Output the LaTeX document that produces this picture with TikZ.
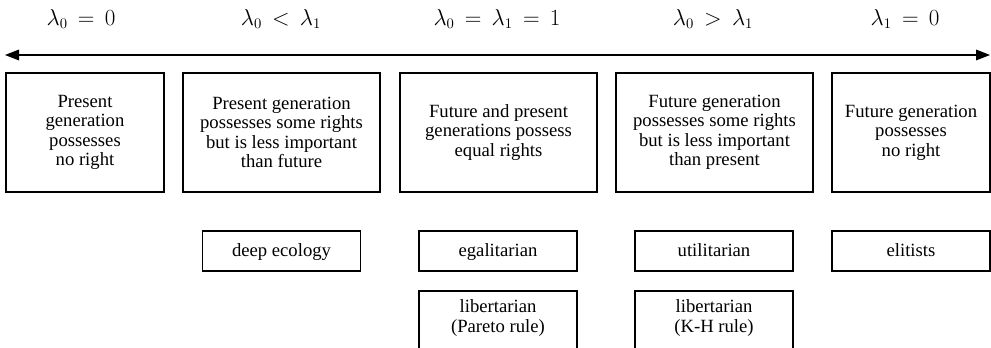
\documentclass[tikz,border=0pt]{standalone}
\usepackage{fontspec}
\setmainfont{Liberation Serif}
\usetikzlibrary{arrows.meta}
\tikzset{
  bigbox/.style={draw, line width=1.2pt, minimum height=89.25pt, align=center, inner sep=0pt,
    font=\fontsize{14}{14.6}\selectfont},
  smallbox/.style={draw, line width=1.2pt, minimum width=118.5pt, minimum height=30pt, inner sep=0pt,
    text height=11pt, text depth=2pt, font=\fontsize{14}{14.6}\selectfont},
  txt/.style={align=center, inner sep=0pt, font=\fontsize{14}{14.6}\selectfont},
  lab/.style={inner sep=0pt, font=\fontsize{16}{18}\selectfont},
  axis/.style={line width=0.8pt, {Triangle[length=10.5pt,width=8pt]}-{Triangle[length=10.5pt,width=8pt]}}
}
\begin{document}
\begin{tikzpicture}[x=0.75pt,y=-0.75pt]
\useasboundingbox (0,0) rectangle (991,348);
\clip (0,0) rectangle (991,348);
% labels
\node[lab] (l1) at (81,19) {$\lambda_0 \,=\, 0$};
\node[lab] (l2) at (281,19) {$\lambda_0 \,<\, \lambda_1$};
\node[lab] (l3) at (497,19) {$\lambda_0 \,=\, \lambda_1 \,=\, 1$};
\node[lab] (l4) at (713,19) {$\lambda_0 \,>\, \lambda_1$};
\node[lab] (l5) at (905,19) {$\lambda_1 \,=\, 0$};
% axis
\coordinate (al) at (5,55);
\coordinate (ar) at (990,55);
\draw[axis] (al) -- (ar);
% top boxes
\node[bigbox, minimum width=118.5pt] (b1) at (85,132.5) {Present\\generation\\possesses\\no right};
\node[bigbox, minimum width=147.75pt] (b2) at (281.5,132.5) {Present generation\\possesses some rights\\but is less important\\than future};
\node[bigbox, minimum width=147.75pt] (b3) at (498.5,132.5) {Future and present\\generations possess\\equal rights};
\node[bigbox, minimum width=147.75pt] (b4) at (714.5,132.5) {Future generation\\possesses some rights\\but is less important\\than present};
\node[bigbox, minimum width=118.5pt] (b5) at (911,132.5) {Future generation\\possesses\\no right};
% bottom boxes
\node[smallbox] (deep) at (281.5,251) {deep ecology};
\node[smallbox] (egal) at (498,251) {egalitarian};
\node[smallbox] (util) at (714,251) {utilitarian};
\node[smallbox] (elit) at (911,251) {elitists};
\node[smallbox, anchor=north, minimum height=60pt] (lib1) at (498,290) {};
\node[txt] (lib1t) at (498,318) {libertarian\\(Pareto rule)};
\node[smallbox, anchor=north, minimum height=60pt] (lib2) at (714,290) {};
\node[txt] (lib2t) at (714,318) {libertarian\\(K-H rule)};
\end{tikzpicture}
\end{document}
